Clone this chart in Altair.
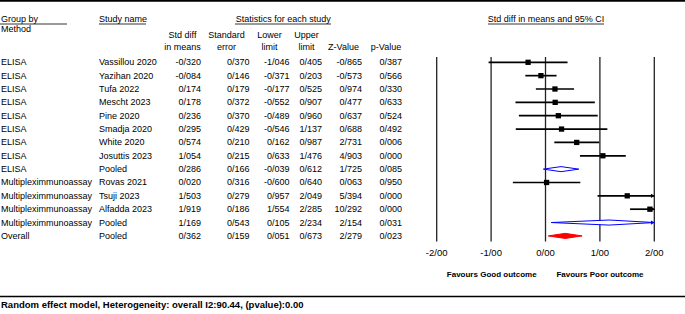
import altair as alt
import pandas as pd

# ---------------- data ----------------
groups = ["ELISA"] * 9 + ["Multipleximmunoassay"] * 4 + ["Overall"]
studies = ["Vassillou 2020", "Yazihan 2020", "Tufa 2022", "Mescht 2023", "Pine 2020",
           "Smadja 2020", "White 2020", "Josuttis 2023", "Pooled", "Rovas 2021",
           "Tsuji 2023", "Alfadda 2023", "Pooled", "Pooled"]
std_diff = [-0.320, -0.084, 0.174, 0.178, 0.236, 0.295, 0.574, 1.054, 0.286, 0.020, 1.503, 1.919, 1.169, 0.362]
std_err = [0.370, 0.146, 0.179, 0.372, 0.370, 0.429, 0.210, 0.215, 0.166, 0.316, 0.279, 0.186, 0.543, 0.159]
lower = [-1.046, -0.371, -0.177, -0.552, -0.489, -0.546, 0.162, 0.633, -0.039, -0.600, 0.957, 1.554, 0.105, 0.051]
upper = [0.405, 0.203, 0.525, 0.907, 0.960, 1.137, 0.987, 1.476, 0.612, 0.640, 2.049, 2.285, 2.234, 0.673]
z_value = [-0.865, -0.573, 0.974, 0.477, 0.637, 0.688, 2.731, 4.903, 1.725, 0.063, 5.394, 10.292, 2.154, 2.279]
p_value = [0.387, 0.566, 0.330, 0.633, 0.524, 0.492, 0.006, 0.000, 0.085, 0.950, 0.000, 0.000, 0.031, 0.023]
kind = ["study"] * 8 + ["subgroup"] + ["study"] * 3 + ["subgroup", "overall"]
tick_values = [-2, -1, 0, 1, 2]
tick_labels = ["-2/00", "-1/00", "0/00", "1/00", "2/00"]

FONT = "Liberation Sans"
FS = 9


def fmt(v):
    return f"{v:.3f}".replace(".", "/")


rows = list(range(1, len(studies) + 1))
df = pd.DataFrame({
    "row": rows, "group": groups, "study": studies, "est": std_diff, "se": std_err,
    "lo": lower, "hi": upper, "z": z_value, "p": p_value, "kind": kind,
})
for col in ["est", "se", "lo", "hi", "z", "p"]:
    df[col + "_t"] = df[col].map(fmt)
df["arrow_color"] = ["blue" if k == "subgroup" else "black" for k in kind]

studies_df = df[df["kind"] == "study"]

# diamond outlines derived from pooled estimates (closed paths)
HALF = 0.19
dia_rows = []
for r in df[df["kind"] != "study"].itertuples():
    pts = [(r.lo, r.row), (r.est, r.row - HALF), (r.hi, r.row), (r.est, r.row + HALF), (r.lo, r.row)]
    for k, (px, py) in enumerate(pts):
        dia_rows.append({"id": int(r.row), "kind": r.kind, "dx": float(px), "dy": float(py), "o": k})
dia = pd.DataFrame(dia_rows)

ticks = pd.DataFrame({"v": tick_values, "lab": tick_labels})

xs = alt.Scale(domain=[-2, 2], range=[436.7, 654.3], clamp=True, zero=False, nice=False)
ys = alt.Scale(domain=[1, 14], range=[62.3, 235.9], zero=False, nice=False)

X = lambda f: alt.X(f, type="quantitative", scale=xs, axis=None)
Y = lambda f: alt.Y(f, type="quantitative", scale=ys, axis=None)

layers = []

# grid lines
layers.append(alt.Chart(ticks).mark_rule(color="#222222", strokeWidth=1.3).encode(
    x=X("v"), y=alt.value(57), y2=alt.value(241.5)))

# CI lines
layers.append(alt.Chart(studies_df).mark_rule(color="black", strokeWidth=1.7).encode(
    x=X("lo"), x2="hi:Q", y=Y("row")))

# squares
layers.append(alt.Chart(studies_df).mark_square(color="black", size=28, opacity=1).encode(
    x=X("est"), y=Y("row")))

# diamonds: filled polygons via line marks with fill
layers.append(alt.Chart(dia[dia["kind"] == "subgroup"]).mark_line(
    stroke="blue", strokeWidth=1, fill="white", fillOpacity=1, interpolate="linear-closed").encode(
    x=X("dx"), y=Y("dy"), detail="id:N", order="o:Q"))
layers.append(alt.Chart(dia[dia["kind"] == "overall"]).mark_line(
    stroke="red", strokeWidth=1, fill="red", fillOpacity=1, interpolate="linear-closed").encode(
    x=X("dx"), y=Y("dy"), detail="id:N", order="o:Q"))

# arrows for CIs beyond the axis
layers.append(alt.Chart(df[df["hi"] > 2]).mark_point(
    shape="triangle-right", filled=True, size=18, opacity=1, xOffset=-1.5).encode(
    x=X("hi"), y=Y("row"), color=alt.Color("arrow_color:N", scale=None)))

# tick labels
layers.append(alt.Chart(ticks).mark_text(font=FONT, fontSize=9.5, baseline="middle").encode(
    x=X("v"), y=alt.value(253), text="lab:N"))

# table columns
layers.append(alt.Chart(df).mark_text(font=FONT, fontSize=FS, align="left", baseline="middle").encode(
    x=alt.value(1), y=Y("row"), text="group:N"))
layers.append(alt.Chart(df).mark_text(font=FONT, fontSize=FS, align="left", baseline="middle").encode(
    x=alt.value(99), y=Y("row"), text="study:N"))
for col, xr in [("est_t", 201), ("se_t", 249.5), ("lo_t", 289.5), ("hi_t", 322), ("z_t", 362), ("p_t", 402)]:
    layers.append(alt.Chart(df).mark_text(font=FONT, fontSize=FS, align="right", baseline="middle").encode(
        x=alt.value(xr), y=Y("row"), text=f"{col}:N"))


def label(text, x, y, align="center", bold=False, size=FS):
    return alt.Chart(pd.DataFrame({"t": [text]})).mark_text(
        font=FONT, fontSize=size, align=align, baseline="middle",
        fontWeight="bold" if bold else "normal").encode(
        x=alt.value(x), y=alt.value(y), text="t:N")


def hline(x1, x2, y, w=0.8):
    return alt.Chart(pd.DataFrame({"a": [0]})).mark_rule(color="black", strokeWidth=w).encode(
        x=alt.value(x1), x2=alt.value(x2), y=alt.value(y))


# headers
layers += [
    label("Group by", 1, 19.3, align="left"),
    label("Method", 1, 29.3, align="left"),
    label("Study name", 99, 19.3, align="left"),
    label("Statistics for each study", 283.3, 19.3),
    label("Std diff in means and 95% CI", 546, 19.3),
    label("Std diff", 182.5, 35),
    label("in means", 182.5, 46.5),
    label("Standard", 226.5, 35),
    label("error", 226.5, 46.5),
    label("Lower", 269.5, 35),
    label("limit", 269.5, 46.5),
    label("Upper", 306.5, 35),
    label("limit", 306.5, 46.5),
    label("Z-Value", 343.5, 46.5),
    label("p-Value", 386, 46.5),
    hline(0, 67, 24),
    hline(99, 146, 24),
    hline(235, 331, 24),
    hline(488, 604, 24),
    label("Favours Good outcome", 491.7, 274.5, bold=True, size=8),
    label("Favours Poor outcome", 600, 274.5, bold=True, size=8),
    label("Random effect model, Heterogeneity: overall I2:90.44,  (pvalue):0.00", 1, 305, align="left", bold=True, size=9.5),
    hline(0, 685, 0.8, w=2),
    hline(0, 685, 296.5, w=1.6),
]

chart = alt.layer(*layers).properties(
    width=685, height=314, padding=0,
    autosize=alt.AutoSizeParams(type="none"),
).configure_view(strokeWidth=0)

chart.save("out.html", embed_options={"renderer": "svg", "actions": False})
